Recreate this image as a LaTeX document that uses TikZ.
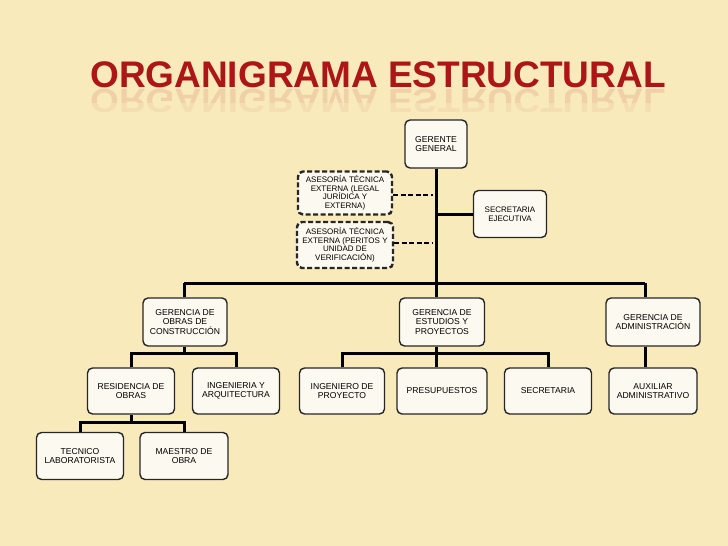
\documentclass[tikz,border=0pt]{standalone}
\usepackage{fontspec}
\setmainfont{Liberation Sans}
\definecolor{bgc}{RGB}{249,234,188}
\definecolor{boxc}{RGB}{252,249,240}
\definecolor{titc}{RGB}{172,22,22}
\begin{document}
\begin{tikzpicture}[x=1pt,y=-1pt,
  box/.style={draw=black!85,line width=1.4pt,fill=boxc,rounded corners=5pt,align=center,
    font=\fontsize{8.6}{9.3}\selectfont,inner sep=1pt},
  dbox/.style={box,line width=2.4pt,dash pattern=on 5pt off 2.5pt},
  ln/.style={line width=3pt,black},
  dl/.style={line width=2.8pt,dash pattern=on 5pt off 2.5pt}]
\fill[bgc] (0,0) rectangle (728,546);
\useasboundingbox (0,0) rectangle (728,546);
\node[titc,opacity=0.12,yscale=-0.9,font=\bfseries\fontsize{37}{37}\selectfont,anchor=base] (refl) at (378,89) {ORGANIGRAMA ESTRUCTURAL};
\fill[bgc,opacity=0.5] (80,103) rectangle (680,115);
\node[titc,font=\bfseries\fontsize{37}{37}\selectfont,anchor=base] (title) at (378,87) {ORGANIGRAMA ESTRUCTURAL};
% nodes
\node[box,minimum width=62pt,minimum height=48pt] (gg) at (436,144) {GERENTE\\GENERAL};
\node[dbox,minimum width=94pt,minimum height=43pt,font=\fontsize{8}{8.6}\selectfont] (a1) at (345,193) {ASESORÍA TÉCNICA\\EXTERNA (LEGAL\\JURÍDICA Y\\EXTERNA)};
\node[dbox,minimum width=96pt,minimum height=46pt,font=\fontsize{8}{8.6}\selectfont] (a2) at (345,245) {ASESORÍA TÉCNICA\\EXTERNA (PERITOS Y\\UNIDAD DE\\VERIFICACIÓN)};
\node[box,minimum width=73pt,minimum height=47pt,font=\fontsize{8}{9}\selectfont] (se) at (510,214) {SECRETARIA\\EJECUTIVA};
\node[box,minimum width=84pt,minimum height=48pt] (goc) at (185,322) {GERENCIA DE\\OBRAS DE\\CONSTRUCCIÓN};
\node[box,minimum width=85pt,minimum height=48pt] (gep) at (442,322) {GERENCIA DE\\ESTUDIOS Y\\PROYECTOS};
\node[box,minimum width=94pt,minimum height=48pt] (ga) at (653,322) {GERENCIA DE\\ADMINISTRACIÓN};
\node[box,minimum width=87pt,minimum height=46pt] (res) at (131,391) {RESIDENCIA DE\\OBRAS};
\node[box,minimum width=87pt,minimum height=46pt] (ing) at (236,391) {INGENIERIA Y\\ARQUITECTURA};
\node[box,minimum width=85pt,minimum height=46pt] (ip) at (342,391) {INGENIERO DE\\PROYECTO};
\node[box,minimum width=90pt,minimum height=46pt] (pre) at (442,391) {PRESUPUESTOS};
\node[box,minimum width=87pt,minimum height=46pt] (sec) at (548,391) {SECRETARIA};
\node[box,minimum width=88pt,minimum height=46pt] (aux) at (653,391) {AUXILIAR\\ADMINISTRATIVO};
\node[box,minimum width=87pt,minimum height=47pt] (tec) at (80,456) {TECNICO\\LABORATORISTA};
\node[box,minimum width=88pt,minimum height=47pt] (mae) at (184,456) {MAESTRO DE\\OBRA};
% connectors
\coordinate (j0) at (436,283);
\coordinate (jl) at (184,283);
\coordinate (jr) at (645,283);
\coordinate (j1) at (184,353);
\coordinate (j2) at (436,353);
\coordinate (j3) at (131,422);
\draw[ln] (gg.south -| j0) -- (j0);
\draw[ln] (se.west -| j0) -- (se.west);
\draw[dl] (a1.east |- 0,195) -- (433,195);
\draw[dl] (a2.east |- 0,243) -- (433,243);
\draw[ln] (jl) -- (jr);
\draw[ln] (goc.north -| jl) -- (jl);
\draw[ln] (ga.north -| jr) -- (jr);
\draw[ln] (gep.north -| j0) -- (j0);
\draw[ln] (goc.south -| j1) -- (j1);
\draw[ln] (res.north) -- (res.north |- j1) -- (ing.north |- j1) -- (ing.north);
\draw[ln] (gep.south -| j2) -- (j2);
\draw[ln] (ip.north) -- (ip.north |- j2) -- (sec.north |- j2) -- (sec.north);
\draw[ln] (pre.north -| j2) -- (j2);
\draw[ln] (ga.south -| jr) -- (aux.north -| jr);
\draw[ln] (res.south -| j3) -- (j3);
\draw[ln] (tec.north) -- (tec.north |- j3) -- (mae.north |- j3) -- (mae.north);
\end{tikzpicture}
\end{document}
